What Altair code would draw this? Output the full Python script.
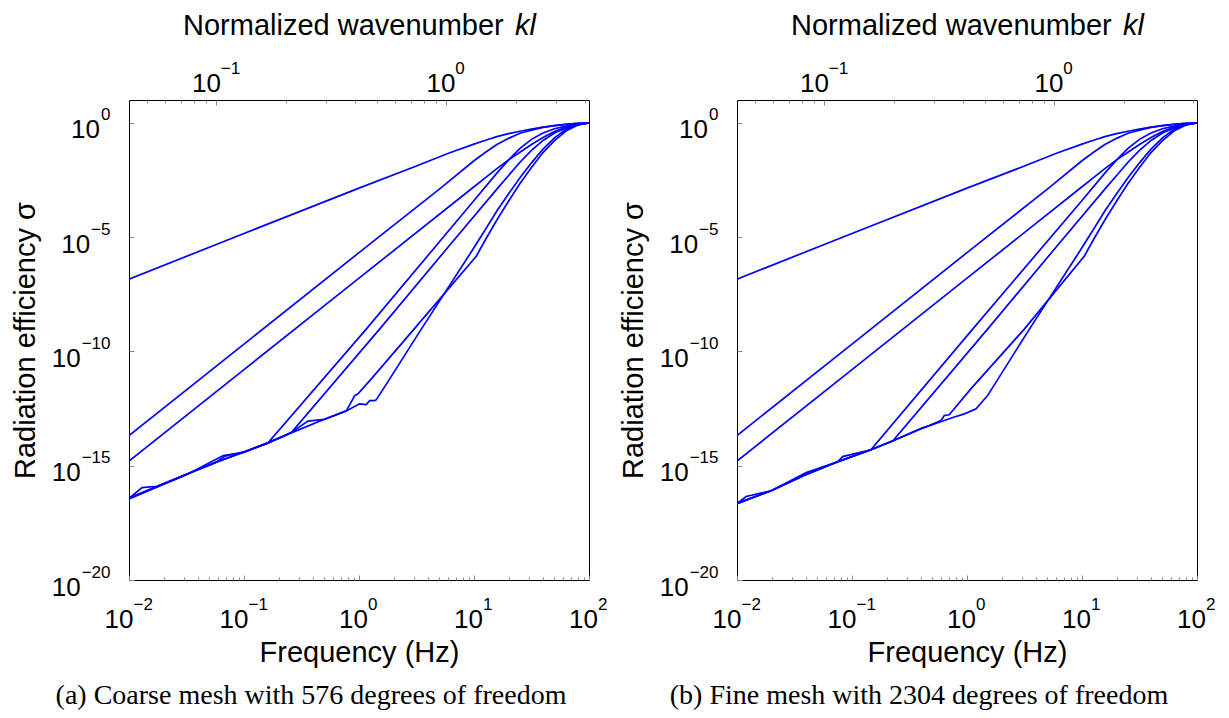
import math
import altair as alt
import pandas as pd

SANS = "Liberation Sans"
SERIF = "Liberation Serif"
BLUE = "#0000ff"
W, H = 460, 480

# ---------------- curves: frequency (Hz) / radiation efficiency ----------------
# three upper curves (identical on both meshes)
A_F = [0.01, 0.1, 1, 3, 6, 10, 12.6, 15.8, 20, 25.1, 31.6, 39.8, 50.1, 63.1, 79.4, 100]
A_S = [1.45e-7, 1.45e-5, 1.4e-3, 1.17e-2, 4.7e-2, 0.117, 0.174, 0.25, 0.34, 0.43, 0.54, 0.65,
       0.76, 0.87, 0.95, 1.0]

B_F = [0.01, 0.1, 1, 5, 10, 12.6, 15.8, 20, 25.1, 31.6, 39.8, 50.1, 63.1, 79.4, 100]
B_S = [2.1e-14, 2.1e-10, 2.1e-6, 1.26e-3, 2.2e-2, 5.2e-2, 0.112, 0.21, 0.35, 0.48, 0.63, 0.76,
       0.86, 0.94, 1.0]

C_F = [0.01, 0.1, 1, 10, 12.6, 15.8, 20, 25.1, 31.6, 39.8, 50.1, 63.1, 79.4, 100]
C_S = [1.6e-15, 1.6e-11, 1.6e-7, 1.6e-3, 4.0e-3, 1.0e-2, 2.4e-2, 5.2e-2, 0.112, 0.23, 0.42,
       0.66, 0.87, 1.0]

# saturating ends of the four lower curves (same on both meshes)
D_TOP_F = [10, 15.8, 20, 25.1, 31.6, 39.8, 50.1, 63.1, 79.4, 100]
D_TOP_S = [4.0e-4, 6.3e-3, 2.4e-2, 7.6e-2, 0.19, 0.36, 0.55, 0.72, 0.87, 1.0]
E_TOP_F = [5.74, 15.8, 20, 25.1, 31.6, 39.8, 50.1, 63.1, 79.4, 100]
E_TOP_S = [2.95e-6, 1.26e-3, 5.0e-3, 1.9e-2, 6.3e-2, 0.17, 0.36, 0.6, 0.83, 1.0]
F_TOP_F = [10.5, 12.6, 15.8, 20, 25.1, 31.6, 39.8, 50.1, 63.1, 79.4, 100]
F_TOP_S = [1.5e-6, 7.9e-6, 5.6e-5, 3.8e-4, 2.2e-3, 1.12e-2, 5.0e-2, 0.166, 0.44, 0.79, 1.0]
G_TOP_F = [9.8, 12.6, 15.8, 20, 25.1, 31.6, 39.8, 50.1, 63.1, 79.4, 100]
G_TOP_S = [2.95e-6, 2.2e-5, 1.4e-4, 7.9e-4, 4.0e-3, 1.78e-2, 7.1e-2, 0.22, 0.52, 0.83, 1.0]

# coarse mesh, lower parts
D1_F = [0.01, 0.013, 0.0178, 0.0316, 0.0562, 0.1, 0.162, 1.156]
D1_S = [3.7e-17, 1.1e-16, 1.26e-16, 4.2e-16, 1.35e-15, 4.0e-15, 1.0e-14, 9.5e-10]
E1_F = [0.01, 0.0316, 0.066, 0.1, 0.162, 0.258, 1.51]
E1_S = [3.5e-17, 4.0e-16, 2.8e-15, 3.8e-15, 1.0e-14, 2.8e-14, 9.5e-10]
F1_F = [0.01, 0.0178, 0.0562, 0.1, 0.162, 0.251, 0.36, 0.501, 0.776, 0.918, 0.98, 1.28, 3.01]
F1_S = [3.9e-17, 1.26e-16, 1.4e-15, 4.0e-15, 1.0e-14, 2.6e-14, 8.9e-14, 1.07e-13, 2.5e-13,
        1.17e-12, 1.4e-12, 6.3e-12, 9.5e-10]
G1_F = [0.01, 0.0178, 0.0316, 0.0562, 0.068, 0.1, 0.162, 0.251, 0.501, 0.776, 1.01, 1.156, 1.24,
        1.37, 1.41, 1.85, 3.48]
G1_S = [3.7e-17, 1.3e-16, 4.2e-16, 1.35e-15, 2.6e-15, 4.0e-15, 1.0e-14, 2.6e-14, 1.07e-13,
        2.5e-13, 5.1e-13, 4.7e-13, 7.1e-13, 7.1e-13, 7.6e-13, 6.3e-12, 9.5e-10]

# fine mesh, lower parts
D2_F = [0.01, 0.0198, 0.0385, 0.075, 0.146, 1.12]
D2_S = [2.2e-17, 8.0e-17, 3.8e-16, 1.48e-15, 5.0e-15, 9.5e-10]
E2_F = [0.01, 0.012, 0.0198, 0.0385, 0.075, 0.146, 0.226, 1.51]
E2_S = [2.2e-17, 4.5e-17, 8.0e-17, 3.8e-16, 1.48e-15, 5.0e-15, 1.2e-14, 9.5e-10]
F2_F = [0.01, 0.0198, 0.04, 0.075, 0.146, 0.233, 0.398, 0.47, 0.594, 0.635, 0.70, 1.08, 3.15]
F2_S = [2.3e-17, 8.0e-17, 5.0e-16, 1.48e-15, 5.0e-15, 1.29e-14, 4.2e-14, 5.75e-14, 9.5e-14,
        1.58e-13, 1.7e-13, 2.3e-12, 9.5e-10]
G2_F = [0.01, 0.0198, 0.0385, 0.075, 0.083, 0.146, 0.233, 0.398, 0.55, 0.776, 0.95, 1.2, 1.51,
        3.49]
G2_S = [2.2e-17, 8.0e-17, 3.8e-16, 1.48e-15, 2.5e-15, 5.0e-15, 1.29e-14, 4.2e-14, 7.4e-14,
        1.35e-13, 1.86e-13, 3.1e-13, 1.17e-12, 9.5e-10]

COARSE = {"A": (A_F, A_S), "B": (B_F, B_S), "C": (C_F, C_S),
          "D": (D1_F + D_TOP_F, D1_S + D_TOP_S), "E": (E1_F + E_TOP_F, E1_S + E_TOP_S),
          "F": (F1_F + F_TOP_F, F1_S + F_TOP_S), "G": (G1_F + G_TOP_F, G1_S + G_TOP_S)}
FINE = {"A": (A_F, A_S), "B": (B_F, B_S), "C": (C_F, C_S),
        "D": (D2_F + D_TOP_F, D2_S + D_TOP_S), "E": (E2_F + E_TOP_F, E2_S + E_TOP_S),
        "F": (F2_F + F_TOP_F, F2_S + F_TOP_S), "G": (G2_F + G_TOP_F, G2_S + G_TOP_S)}

# ---------------- ticks and labels ----------------
FREQ_NEG = [0.01, 0.1]
FREQ_NEG_EXP = ["\u22122", "\u22121"]
FREQ_POS = [1, 10, 100]
FREQ_POS_EXP = ["0", "1", "2"]
FREQ_MAJOR = FREQ_NEG + FREQ_POS
FREQ_MINOR = [m * d for d in [0.01, 0.1, 1, 10] for m in range(2, 10)]

# top axis: normalized wavenumber kl (kl grows as sqrt(f); kl = 0.417 at 1 Hz)
KL_AT_1HZ = 0.417
KL_NEG = [0.1]
KL_NEG_EXP = ["\u22121"]
KL_POS = [1]
KL_POS_EXP = ["0"]
KL_MAJOR = KL_NEG + KL_POS
KL_MINOR = [0.05, 0.06, 0.07, 0.08, 0.09, 0.2, 0.3, 0.4, 0.5, 0.6, 0.7, 0.8, 0.9, 2, 3, 4]


def kl_to_f(vals):
    return [(k / KL_AT_1HZ) ** 2 for k in vals]


SIG_MAJOR = [1e-20, 1e-15, 1e-10, 1e-5, 1]
SIG_EXP = ["\u221220", "\u221215", "\u221210", "\u22125", "0"]
SIG_WIDE = [1e-20, 1e-15, 1e-10]
SIG_MID = [1e-5]
SIG_NARROW = [1]

TITLE_TOP = "Normalized wavenumber"
TITLE_TOP_ITALIC = "kl"
X_TITLE = "Frequency (Hz)"
Y_TITLE = "Radiation efficiency \u03c3"
CAPTIONS = ["(a) Coarse mesh with 576 degrees of freedom",
            "(b) Fine mesh with 2304 degrees of freedom"]

XS = alt.Scale(type="log", domain=[0.01, 100])
YS = alt.Scale(type="log", domain=[1e-20, 10])

TICK_FS = 26
EXP_FS = 17
TITLE_FS = 29


def lab_expr(values, labels):
    e = "''"
    for v, l in zip(values, labels):
        e = f"abs(log(datum.value)/LN10 - ({math.log10(v):.4f})) < 0.01 ? '{l}' : ({e})"
    return e


def axis_layer(channel, values, labels=None, **kw):
    # invisible helper layer carrying one extra axis; it has both scales so that
    # Vega-Lite does not need to add size signals for it
    df = pd.DataFrame({"v": values, "o": [1.0] * len(values)})
    opts = dict(values=values, title=None, grid=False, domain=False)
    if labels is None:
        opts["labels"] = False
    else:
        opts["labelExpr"] = lab_expr(values, labels)
        opts["ticks"] = False
        opts["tickSize"] = 0
    opts.update(kw)
    ax = alt.Axis(**opts)
    if channel == "x":
        enc = {"x": alt.X("v:Q", scale=XS, axis=ax),
               "y": alt.Y("o:Q", scale=YS, axis=None)}
    else:
        enc = {"y": alt.Y("v:Q", scale=YS, axis=ax),
               "x": alt.X("o:Q", scale=XS, axis=None)}
    return alt.Chart(df).mark_point(opacity=0).encode(**enc)


def text_layer(txt, x, y, **kw):
    df = pd.DataFrame({"t": [txt]})
    return alt.Chart(df).mark_text(color="black", **kw).encode(
        x=alt.value(x), y=alt.value(y), text="t:N")


def panel(curves, caption):
    rows = [{"curve": k, "f": f, "s": s}
            for k, (fs, ss) in curves.items() for f, s in zip(fs, ss)]
    df = pd.DataFrame(rows)
    lines = alt.Chart(df).mark_line(color=BLUE, strokeWidth=1.7, clip=True).encode(
        x=alt.X("f:Q", scale=XS, axis=alt.Axis(
            orient="bottom", values=FREQ_MAJOR, labels=False, tickSize=5, offset=-5,
            grid=False, domain=False,
            title=X_TITLE, titleFontSize=TITLE_FS, titleFont=SANS, titleFontWeight="normal",
            titleBaseline="alphabetic", titlePadding=26, minExtent=60, maxExtent=60)),
        y=alt.Y("s:Q", scale=YS, axis=alt.Axis(
            orient="left", values=SIG_MAJOR, labels=False, tickSize=5, offset=-5,
            grid=False, domain=False,
            title=Y_TITLE, titleFontSize=TITLE_FS, titleFont=SANS, titleFontWeight="normal",
            titleBaseline="alphabetic", titlePadding=20, minExtent=80, maxExtent=80)),
        detail="curve:N",
        order="f:Q",
    )
    layers = [lines]
    # bottom frequency axis: minor ticks, "10" and exponents
    layers.append(axis_layer("x", FREQ_MINOR, orient="bottom", tickSize=3, offset=-3))
    layers.append(axis_layer("x", FREQ_NEG, ["10"] * len(FREQ_NEG), orient="bottom",
                             labelAlign="right", labelOffset=4, labelBaseline="alphabetic",
                             labelPadding=47.8, labelFontSize=TICK_FS))
    layers.append(axis_layer("x", FREQ_POS, ["10"] * len(FREQ_POS), orient="bottom",
                             labelAlign="right", labelOffset=8.5, labelBaseline="alphabetic",
                             labelPadding=47.8, labelFontSize=TICK_FS))
    layers.append(axis_layer("x", FREQ_NEG, FREQ_NEG_EXP, orient="bottom",
                             labelAlign="left", labelOffset=4, labelBaseline="alphabetic",
                             labelPadding=29.7, labelFontSize=EXP_FS))
    layers.append(axis_layer("x", FREQ_POS, FREQ_POS_EXP, orient="bottom",
                             labelAlign="left", labelOffset=8.5, labelBaseline="alphabetic",
                             labelPadding=29.7, labelFontSize=EXP_FS))
    # top wavenumber axis (ticks placed at the frequencies of the kl values)
    layers.append(axis_layer("x", kl_to_f(KL_MAJOR), orient="top", tickSize=5, offset=-5))
    layers.append(axis_layer("x", kl_to_f(KL_MINOR), orient="top", tickSize=3, offset=-3))
    layers.append(axis_layer("x", kl_to_f(KL_NEG), ["10"], orient="top", labelAlign="right",
                             labelOffset=4, labelBaseline="alphabetic", labelPadding=9,
                             labelFontSize=TICK_FS))
    layers.append(axis_layer("x", kl_to_f(KL_POS), ["10"], orient="top", labelAlign="right",
                             labelOffset=8.5, labelBaseline="alphabetic", labelPadding=9,
                             labelFontSize=TICK_FS))
    layers.append(axis_layer("x", kl_to_f(KL_NEG), KL_NEG_EXP, orient="top", labelAlign="left",
                             labelOffset=4, labelBaseline="alphabetic", labelPadding=26.7,
                             labelFontSize=EXP_FS))
    layers.append(axis_layer("x", kl_to_f(KL_POS), KL_POS_EXP, orient="top", labelAlign="left",
                             labelOffset=8.5, labelBaseline="alphabetic", labelPadding=26.7,
                             labelFontSize=EXP_FS))
    # left sigma axis
    for vals, pad in [(SIG_WIDE, 48.8), (SIG_MID, 39.4), (SIG_NARROW, 29.5)]:
        layers.append(axis_layer("y", vals, ["10"] * len(vals), orient="left",
                                 labelAlign="right", labelOffset=15, labelBaseline="alphabetic",
                                 labelPadding=pad, labelFontSize=TICK_FS))
    layers.append(axis_layer("y", SIG_MAJOR, SIG_EXP, orient="left", labelAlign="right",
                             labelOffset=-3, labelBaseline="alphabetic", labelPadding=19,
                             labelFontSize=EXP_FS))
    # texts
    layers.append(text_layer(TITLE_TOP, 54, -65, align="left", baseline="alphabetic",
                             fontSize=TITLE_FS, font=SANS))
    layers.append(text_layer(TITLE_TOP_ITALIC, 386, -65, align="left", baseline="alphabetic",
                             fontSize=TITLE_FS, font=SANS, fontStyle="italic"))
    layers.append(text_layer(caption, 182, 604, align="center", baseline="alphabetic",
                             fontSize=28, font=SERIF))
    return (alt.layer(*layers)
            .properties(width=W, height=H,
                        view=alt.ViewBackground(stroke="black", strokeWidth=1, fill="white"))
            .resolve_axis(x="independent", y="independent"))


chart = (alt.hconcat(panel(COARSE, CAPTIONS[0]), panel(FINE, CAPTIONS[1]), spacing=10)
         .properties(padding={"left": 2, "top": 3, "right": 5, "bottom": 2})
         .configure_view(stroke="black", strokeWidth=1)
         .configure_axis(grid=False, domain=False, labelFont=SANS, titleFont=SANS,
                         labelColor="black", titleColor="black", tickColor="black",
                         titleFontWeight="normal", labelFlush=False, labelOverlap=False,
                         labelBound=False, tickWidth=1)
         .configure(background="white"))

chart.save("out.html", embed_options={"renderer": "svg", "actions": False})
